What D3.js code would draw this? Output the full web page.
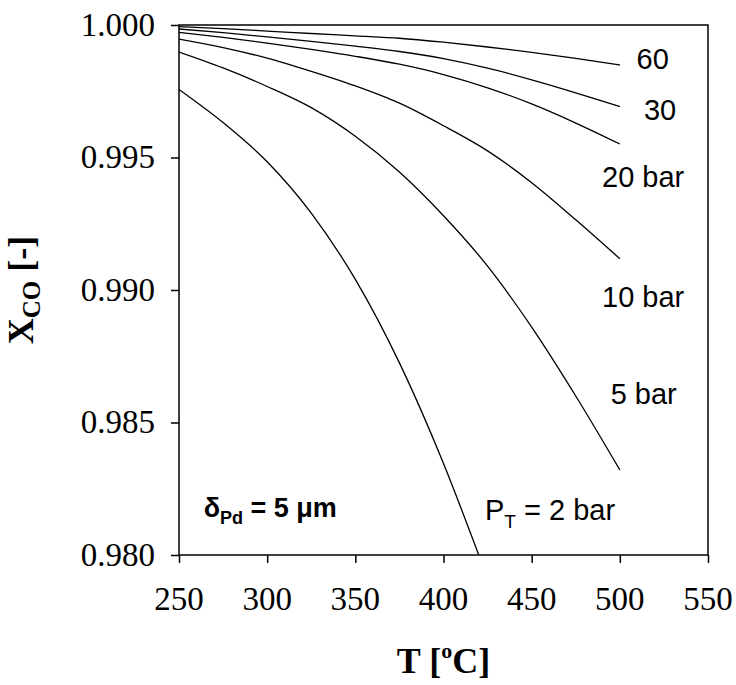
<!DOCTYPE html>
<html>
<head>
<meta charset="utf-8">
<script src="https://cdn.jsdelivr.net/npm/d3@7"></script>
<style>
  html, body { margin: 0; padding: 0; background: #fff; }
  svg { display: block; }
</style>
</head>
<body>
<svg id="chart" width="736" height="685"></svg>
<script>
// ---------- data ----------
const temps = [250, 275, 300, 325, 350, 375, 400, 425, 450, 475, 500];
const temps2bar = [250, 275, 300, 325, 350, 375, 400, 420];

const xco60 = [0.99994, 0.99986, 0.99977, 0.99968, 0.99959, 0.99950, 0.99935, 0.99917, 0.99897, 0.99874, 0.99849];
const xco30 = [0.99985, 0.99971, 0.99955, 0.99938, 0.99920, 0.99900, 0.99873, 0.99837, 0.99793, 0.99744, 0.99692];
const xco20 = [0.99972, 0.99953, 0.99932, 0.99908, 0.99882, 0.99852, 0.99813, 0.99763, 0.99702, 0.99630, 0.99551];
const xco10 = [0.99947, 0.99915, 0.99875, 0.99825, 0.99770, 0.99705, 0.99620, 0.99525, 0.99405, 0.99265, 0.99118];
const xco5  = [0.99898, 0.99838, 0.99768, 0.99688, 0.99580, 0.99445, 0.99280, 0.99090, 0.98860, 0.98600, 0.98321];
const xco2  = [0.99757, 0.99632, 0.99484, 0.99290, 0.99040, 0.98725, 0.98345, 0.98000];

const xTicks = [250, 300, 350, 400, 450, 500, 550];
const yTicks = [0.980, 0.985, 0.990, 0.995, 1.000];

// ---------- layout ----------
const svg = d3.select("#chart");
const pL = 179, pT = 25, pR = 708, pB = 555;

const x = d3.scaleLinear().domain([250, 550]).range([pL, pR]);
const y = d3.scaleLinear().domain([0.980, 1.000]).range([pB, pT]);

const serif = "Liberation Serif";
const sans = "Liberation Sans";

// clip
svg.append("defs").append("clipPath").attr("id", "plotclip")
  .append("rect").attr("x", pL).attr("y", pT)
  .attr("width", pR - pL).attr("height", pB - pT);

// curves
const series = [
  { t: temps, v: xco60 },
  { t: temps, v: xco30 },
  { t: temps, v: xco20 },
  { t: temps, v: xco10 },
  { t: temps, v: xco5 },
  { t: temps2bar, v: xco2 }
];
const line = d3.line()
  .x(d => x(d[0]))
  .y(d => y(d[1]))
  .curve(d3.curveMonotoneX);

svg.append("g").attr("clip-path", "url(#plotclip)")
  .selectAll("path").data(series).join("path")
  .attr("d", s => line(s.t.map((t, i) => [t, s.v[i]])))
  .attr("fill", "none")
  .attr("stroke", "#000")
  .attr("stroke-width", 1.3);

// axes (tick marks from d3 axes, labels drawn from the same scales)
const xAxis = d3.axisBottom(x).tickValues(xTicks).tickSize(8).tickFormat("");
const yAxis = d3.axisLeft(y).tickValues(yTicks).tickSize(8).tickFormat("");

const gx = svg.append("g").attr("transform", `translate(0,${pB})`).call(xAxis);
const gy = svg.append("g").attr("transform", `translate(${pL},0)`).call(yAxis);
[gx, gy].forEach(g => {
  g.select(".domain").remove();
  g.selectAll(".tick line").attr("stroke", "#000").attr("stroke-width", 1.5);
});

svg.append("g").selectAll("text").data(xTicks).join("text")
  .attr("x", d => x(d)).attr("y", pB + 55)
  .attr("text-anchor", "middle")
  .attr("font-family", serif).attr("font-size", 33).attr("fill", "#000")
  .text(d3.format("d"));

svg.append("g").selectAll("text").data(yTicks).join("text")
  .attr("x", pL - 24).attr("y", d => y(d)).attr("dy", "0.33em")
  .attr("text-anchor", "end")
  .attr("font-family", serif).attr("font-size", 33).attr("fill", "#000")
  .text(d3.format(".3f"));

// frame
svg.append("rect")
  .attr("x", pL).attr("y", pT)
  .attr("width", pR - pL).attr("height", pB - pT)
  .attr("fill", "none").attr("stroke", "#000").attr("stroke-width", 1.5);

// axis titles
const xt = svg.append("text")
  .attr("x", (pL + pR) / 2).attr("y", 673)
  .attr("text-anchor", "middle")
  .attr("font-family", serif).attr("font-weight", "bold")
  .attr("font-size", 36).attr("fill", "#000");
xt.append("tspan").text("T [");
xt.append("tspan").attr("font-size", 22).attr("dy", -15).text("o");
xt.append("tspan").attr("dy", 15).text("C]");

const yt = svg.append("text")
  .attr("transform", `translate(33,${(pT + pB) / 2}) rotate(-90)`)
  .attr("text-anchor", "middle")
  .attr("font-family", serif).attr("font-weight", "bold")
  .attr("font-size", 36).attr("fill", "#000");
yt.append("tspan").text("X");
yt.append("tspan").attr("font-size", 25).attr("dy", 7).text("CO");
yt.append("tspan").attr("dy", -7).text(" [-]");

// curve labels (placed in data coordinates)
const lab = (t, v, txt) => svg.append("text")
  .attr("x", x(t)).attr("y", y(v))
  .attr("font-family", sans).attr("font-size", 29).attr("fill", "#000")
  .text(txt);

lab(509.5, 0.99835, "60");
lab(513.7, 0.99642, "30");
lab(489.9, 0.99389, "20 bar");
lab(489.9, 0.98936, "10 bar");
lab(494.8, 0.98570, "5 bar");

const pt = svg.append("text")
  .attr("x", x(423.5)).attr("y", y(0.98132))
  .attr("font-family", sans).attr("font-size", 29).attr("fill", "#000");
pt.append("tspan").text("P");
pt.append("tspan").attr("font-size", 19).attr("dy", 8).text("T");
pt.append("tspan").attr("dy", -8).text(" = 2 bar");

const dl = svg.append("text")
  .attr("x", x(264)).attr("y", y(0.98143))
  .attr("font-family", sans).attr("font-weight", "bold")
  .attr("font-size", 27).attr("fill", "#000");
dl.append("tspan").text("δ");
dl.append("tspan").attr("font-size", 18).attr("dy", 7).text("Pd");
dl.append("tspan").attr("dy", -7).text(" = 5 μm");
</script>
</body>
</html>
